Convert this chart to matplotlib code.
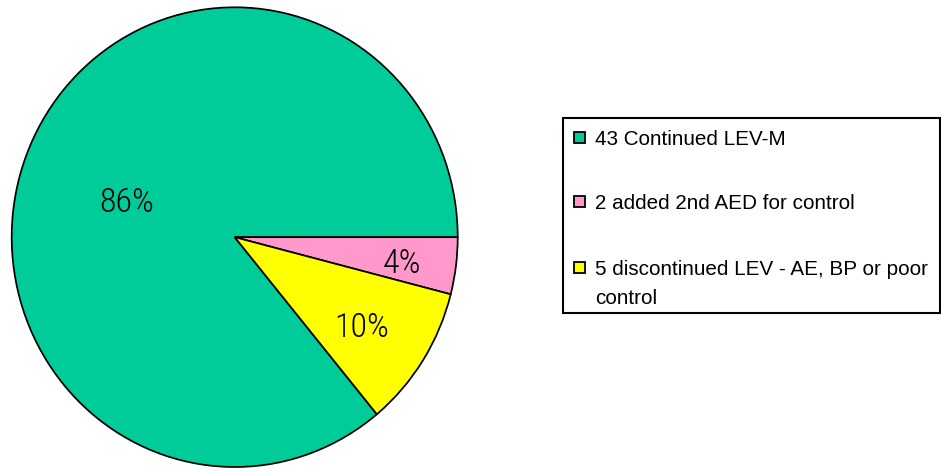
import matplotlib
matplotlib.use("Agg")
import numpy as np
import matplotlib.pyplot as plt
from matplotlib.patches import Rectangle

# patient outcomes after switching to levetiracetam monotherapy
counts = [43, 2, 5]
labels = ["43 Continued LEV-M",
          "2 added 2nd AED for control",
          "5 discontinued LEV - AE, BP or poor\ncontrol"]
colors = ["#00CC99", "#FF99CC", "#FFFF00"]

W, H = 941, 470
fig = plt.figure(figsize=(W / 100, H / 100), dpi=100)


def fx(px):
    return px / W


def fy(py):
    return 1 - py / H


# pie occupies a slightly tall ellipse on the left
ax = fig.add_axes([fx(11.7), fy(467.0), 446 / W, 459.7 / H])
start = 360 * counts[0] / sum(counts)
wedges, _, autotexts = ax.pie(
    counts, colors=colors, startangle=start, counterclock=False,
    autopct=lambda p: f"{p:.0f}%", pctdistance=0.7,
    wedgeprops=dict(edgecolor="black", linewidth=1.25),
    textprops=dict(family=["Roboto Condensed", "Archivo Narrow", "Liberation Sans"],
                   fontstretch="condensed", fontweight=300, fontsize=24.5),
)
ax.set_aspect("auto")
ax.set_xlim(-1.0, 1.0)
ax.set_ylim(-1.0, 1.0)

# label spots (fraction of radius, angle in degrees)
spots = [(0.51, 161.4), (0.757, -7.8), (0.685, -33.5)]
for t, (r, a) in zip(autotexts, spots):
    t.set_position((r * np.cos(np.radians(a)), r * np.sin(np.radians(a))))
    t.set_va("center_baseline")

# legend box drawn by hand so the swatch sits by the first line
fig.patches.append(Rectangle((fx(563), fy(312.5)), (939.5 - 563) / W, (312.5 - 117.5) / H,
                             transform=fig.transFigure, facecolor="white",
                             edgecolor="black", linewidth=1.5, zorder=1))
rows = [145, 209, 275]
line_gap = 29.5
sw = 11
for lab, col, base in zip(labels, colors, rows):
    cy = base - 7.5
    fig.patches.append(Rectangle((fx(574), fy(cy + sw / 2)), sw / W, sw / H,
                                 transform=fig.transFigure, facecolor=col,
                                 edgecolor="black", linewidth=1.3, zorder=2))
    for i, line in enumerate(lab.split("\n")):
        fig.text(fx(595), fy(base + i * line_gap), line, family="Liberation Sans",
                 fontsize=14.9, va="baseline", ha="left", zorder=3)

fig.savefig("out.png", dpi=100)
